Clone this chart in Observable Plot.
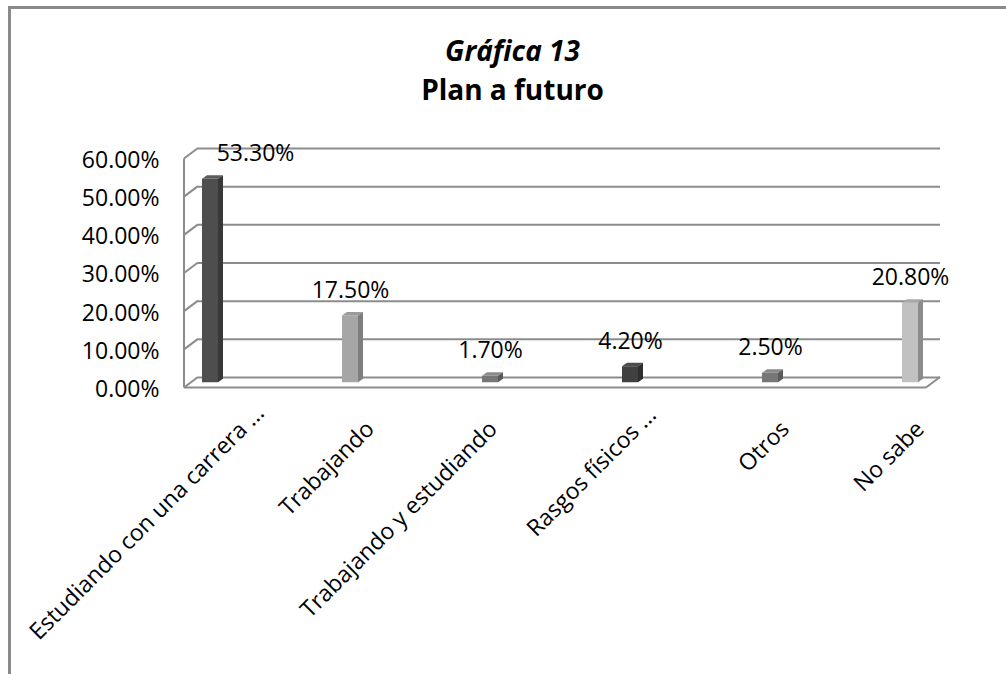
<!DOCTYPE html>
<html>
<head>
<meta charset="utf-8">
<script src="https://cdn.jsdelivr.net/npm/d3@7"></script>
<script src="https://cdn.jsdelivr.net/npm/@observablehq/plot@0.6"></script>
<style>
  html, body { margin: 0; padding: 0; background: #fff; overflow: hidden; }
  #chart { position: absolute; left: 0; top: 0; }
  #border { position: absolute; left: 8px; top: 6px; width: 1100px; height: 800px;
            border-left: 3px solid #8a8a8a; border-top: 3px solid #8a8a8a; pointer-events: none; }
</style>
</head>
<body>
<div id="chart"></div>
<div id="border"></div>
<script>
// ---- data ----
const categories = ["Estudiando con una carrera ...", "Trabajando", "Trabajando y estudiando", "Rasgos físicos ...", "Otros", "No sabe"];
const values = [0.533, 0.175, 0.017, 0.042, 0.025, 0.208];
const yTicks = [0, 0.1, 0.2, 0.3, 0.4, 0.5, 0.6];
const titleLines = ["Gráfica 13", "Plan a futuro"];

// ---- styles ----
const frontColors = ["#4e4e4e", "#a6a6a6", "#767676", "#404040", "#777777", "#c1c1c1"];
const sideColors  = ["#383838", "#7e7e7e", "#5a5a5a", "#2e2e2e", "#5b5b5b", "#8c8c8c"];
const topColors   = ["#5c5c5c", "#9a9a9a", "#8a8a8a", "#4c4c4c", "#8a8a8a", "#a8a8a8"];
const labelShift  = [{dx: 55, dy: 37}, {dx: 25, dy: 53}, {dx: 8, dy: 53}, {dx: 27, dy: 39}, {dx: 20, dy: 53}, {dx: 15, dy: 53}];
const gridColor = "#8c8c8c";
const DEPTH_X = -14, DEPTH_Y = 10.5;   // back wall -> front plane
const FONT = "Open Sans";

const data = categories.map((c, i) => ({cat: c, value: values[i], i}));
const pct = d3.format(".2%");

const wall = (index, scales, values, dims) => {
  const y = scales.y;
  const x0 = dims.marginLeft, x1 = dims.width - dims.marginRight;
  const g = d3.create("svg:g").attr("stroke", gridColor).attr("stroke-width", 2).attr("fill", "none");
  g.append("line").attr("x1", x0 + DEPTH_X).attr("x2", x0 + DEPTH_X)
    .attr("y1", y(yTicks[yTicks.length - 1]) + DEPTH_Y).attr("y2", y(0) + DEPTH_Y);
  for (const t of yTicks) {
    g.append("line").attr("x1", x0).attr("y1", y(t)).attr("x2", x0 + DEPTH_X).attr("y2", y(t) + DEPTH_Y);
  }
  g.append("line").attr("x1", x0 + DEPTH_X).attr("x2", x1 + DEPTH_X)
    .attr("y1", y(0) + DEPTH_Y).attr("y2", y(0) + DEPTH_Y);
  g.append("line").attr("x1", x1).attr("y1", y(0)).attr("x2", x1 + DEPTH_X).attr("y2", y(0) + DEPTH_Y);
  return g.node();
};

const bars3d = Plot.barY(data, {
  x: "cat", y: "value", fill: d => frontColors[d.i],
  insetLeft: 62, insetRight: 62, dy: DEPTH_Y / 2,
  render(index, scales, vals, dims, context, next) {
    const g = next(index, scales, vals, dims, context);
    const rects = Array.from(g.querySelectorAll("rect"));
    const d = 5, e = 3.5;
    rects.forEach((r, k) => {
      const i = index[k];
      const x = +r.getAttribute("x"), y = +r.getAttribute("y");
      const w = +r.getAttribute("width"), h = +r.getAttribute("height");
      const ns = "http://www.w3.org/2000/svg";
      const top = document.createElementNS(ns, "polygon");
      top.setAttribute("points", `${x},${y} ${x + w},${y} ${x + w + d},${y - e} ${x + d},${y - e}`);
      top.setAttribute("fill", topColors[data[i].i]);
      const side = document.createElementNS(ns, "polygon");
      side.setAttribute("points", `${x + w},${y} ${x + w + d},${y - e} ${x + w + d},${y + h - e} ${x + w},${y + h}`);
      side.setAttribute("fill", sideColors[data[i].i]);
      g.appendChild(top);
      g.appendChild(side);
    });
    return g;
  }
});

const marks = [
  Plot.gridY(yTicks, {stroke: gridColor, strokeOpacity: 1, strokeWidth: 2}),
  wall,
  bars3d,
  Plot.text(yTicks, {y: d => d, text: d => pct(d), frameAnchor: "left", textAnchor: "end",
    dx: -39, dy: 12, fontSize: 23, fill: "#000"}),
  Plot.text(data.filter(d => d.i === 0), {x: "cat", y: "value", text: d => pct(d.value),
    dx: 45, dy: -20, fontSize: 23, fill: "#000"}),
  Plot.text(data.filter(d => d.i !== 0), {x: "cat", y: "value", text: d => pct(d.value),
    dy: -20, fontSize: 23, fill: "#000"}),
  ...categories.map((c, i) => Plot.text([c], {x: d => d, text: d => d, frameAnchor: "bottom",
    rotate: -45, textAnchor: "end", lineAnchor: "bottom",
    dx: labelShift[i].dx, dy: labelShift[i].dy, fontSize: 23, fill: "#000"})),
  Plot.text([titleLines[0]], {text: d => d, frameAnchor: "top", lineAnchor: "bottom",
    dx: -57, dy: -88, fontSize: 28, fontWeight: "bold", fontStyle: "italic", fill: "#000"}),
  Plot.text([titleLines[1]], {text: d => d, frameAnchor: "top", lineAnchor: "bottom",
    dx: -57, dy: -49, fontSize: 28, fontWeight: "bold", fill: "#000"})
];

const chart = Plot.plot({
  width: 1006, height: 674,
  marginLeft: 198, marginRight: 66, marginTop: 148, marginBottom: 297,
  style: {fontFamily: FONT, background: "#fff", overflow: "visible"},
  x: {domain: categories, range: [140, 980], padding: 0, axis: null},
  y: {domain: [0, 0.6], axis: null},
  color: {type: "identity"},
  marks
});
document.getElementById("chart").appendChild(chart);
</script>
</body>
</html>
